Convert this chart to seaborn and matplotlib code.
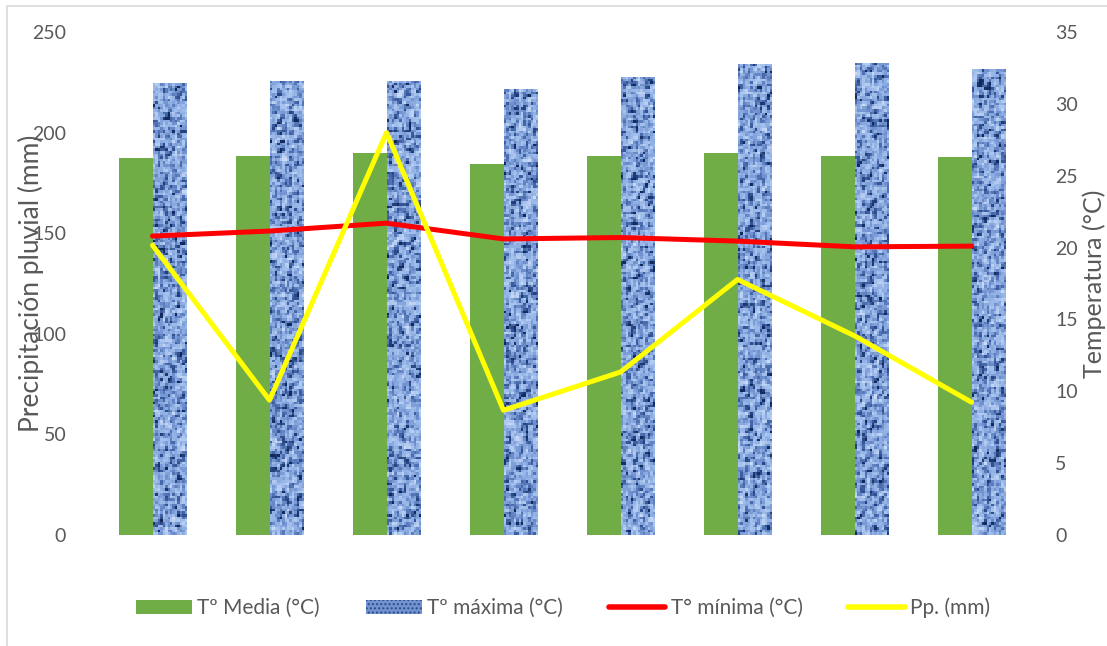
import numpy as np
import pandas as pd
import matplotlib
matplotlib.use("Agg")
import matplotlib.pyplot as plt
from matplotlib.colors import LinearSegmentedColormap
from matplotlib.patches import Patch, Rectangle
from matplotlib.lines import Line2D
import seaborn as sns

# Monthly series (8 periods)
categories = ["1", "2", "3", "4", "5", "6", "7", "8"]
t_media = [26.2, 26.4, 26.6, 25.8, 26.4, 26.6, 26.4, 26.3]
t_maxima = [31.45, 31.6, 31.6, 31.0, 31.9, 32.8, 32.85, 32.4]
t_minima = [20.8, 21.15, 21.7, 20.6, 20.7, 20.45, 20.05, 20.1]
pp_mm = [144, 67, 200, 62, 81, 127, 99, 66]

legend_labels = ["Tº Media (°C)", "Tº máxima (°C)", "T° mínima (°C)", "Pp. (mm)"]
left_ticks = [0, 50, 100, 150, 200, 250]
right_ticks = [0, 5, 10, 15, 20, 25, 30, 35]

GREEN = "#70AD47"
BLUE = "#7393CF"
RED = "#FF0000"
YELLOW = "#FFFF00"
TXT = "#595959"

sns.set_theme(style="white")
plt.rcParams["font.family"] = ["Lato", "DejaVu Sans"]

fig = plt.figure(figsize=(11.07, 6.46), dpi=100)
ax = fig.add_axes([94 / 1107, 111 / 646, 936 / 1107, 503 / 646])

df = pd.DataFrame({
    "cat": categories * 2,
    "val": t_media + t_maxima,
    "serie": [legend_labels[0]] * len(categories) + [legend_labels[1]] * len(categories),
})
sns.barplot(data=df, x="cat", y="val", hue="serie", order=categories,
            palette=[GREEN, BLUE], width=0.58, gap=0, ax=ax, legend=False,
            saturation=1, edgecolor="none", linewidth=0, zorder=2)

# denim-like texture on the maximum temperature bars
denim = LinearSegmentedColormap.from_list(
    "denim", ["#12295e", "#3a5c9e", "#6f90cd", "#8eaee3", "#a8c3ee", "#c9dbf6"])
rng = np.random.default_rng(7)
for bar in ax.containers[1]:
    x0, y0 = bar.get_x(), bar.get_y()
    w, h = bar.get_width(), bar.get_height()
    rows = int(h * 14.37 / 2.6)
    tex = rng.random((rows, 14))
    tex = 0.5 * tex + 0.25 * np.roll(tex, 1, axis=0) + 0.25 * np.roll(tex, 1, axis=1)
    tex = tex ** 0.7
    im = ax.imshow(tex, cmap=denim, vmin=0.25, vmax=0.95, aspect="auto",
                   interpolation="nearest", extent=(x0, x0 + w, y0, y0 + h),
                   zorder=2.1)
    im.set_clip_path(bar)

positions = np.arange(len(categories))
sns.lineplot(x=positions, y=t_minima, color=RED, linewidth=3.6, ax=ax,
             zorder=3, solid_capstyle="round", solid_joinstyle="round")

ax.set_xlim(-0.5, len(categories) - 0.5)
ax.set_ylim(0, 35)
ax.set_xticks([])
ax.set_xlabel("")

axp = ax.twinx()
sns.lineplot(x=positions, y=pp_mm, color=YELLOW, linewidth=3.6, ax=axp,
             zorder=4, solid_capstyle="round", solid_joinstyle="round")
axp.set_ylim(0, 250)
axp.set_xlim(-0.5, len(categories) - 0.5)
axp.set_xticks([])

# temperature scale on the right, precipitation on the left
ax.set_yticks(right_ticks)
ax.yaxis.tick_right()
ax.set_ylabel("Temperatura (°C)", fontsize=18, color=TXT, rotation=90)
ax.yaxis.set_label_position("right")
ax.yaxis.set_label_coords(1.0556, 0.5)
ax.tick_params(axis="y", which="both", left=False, right=False,
               labelleft=False, labelright=True,
               labelsize=14, labelcolor=TXT, length=0, pad=18)

axp.set_yticks(left_ticks)
axp.yaxis.tick_left()
axp.yaxis.set_label_position("left")
axp.set_ylabel("Precipitación pluvial (mm)", fontsize=19, color=TXT)
axp.yaxis.set_label_coords(-0.0534, 0.5)
axp.tick_params(axis="y", which="both", left=False, right=False,
                labelleft=True, labelright=False,
                labelsize=14, labelcolor=TXT, length=0, pad=20)

for a in (ax, axp):
    for s in a.spines.values():
        s.set_visible(False)
    a.grid(False)
    a.patch.set_visible(False)

handles = [
    Patch(facecolor=GREEN, edgecolor="none"),
    Patch(facecolor=BLUE, edgecolor="#2a4d8f", hatch="....", linewidth=0),
    Line2D([], [], color=RED, linewidth=4, solid_capstyle="round"),
    Line2D([], [], color=YELLOW, linewidth=4, solid_capstyle="round"),
]
fig.legend(handles, legend_labels, loc="center", bbox_to_anchor=(563 / 1107, 38 / 646),
           ncol=4, frameon=False, fontsize=15, labelcolor=TXT,
           handlelength=2.7, handletextpad=0.25, columnspacing=2.2)

# light frame around the chart area
fig.patches.append(Rectangle((7 / 1107, -0.5), 1.5, 0.5 + 640 / 646,
                             transform=fig.transFigure, fill=False,
                             edgecolor="#d9d9d9", linewidth=1.2))

fig.savefig("out.png", dpi=100)
